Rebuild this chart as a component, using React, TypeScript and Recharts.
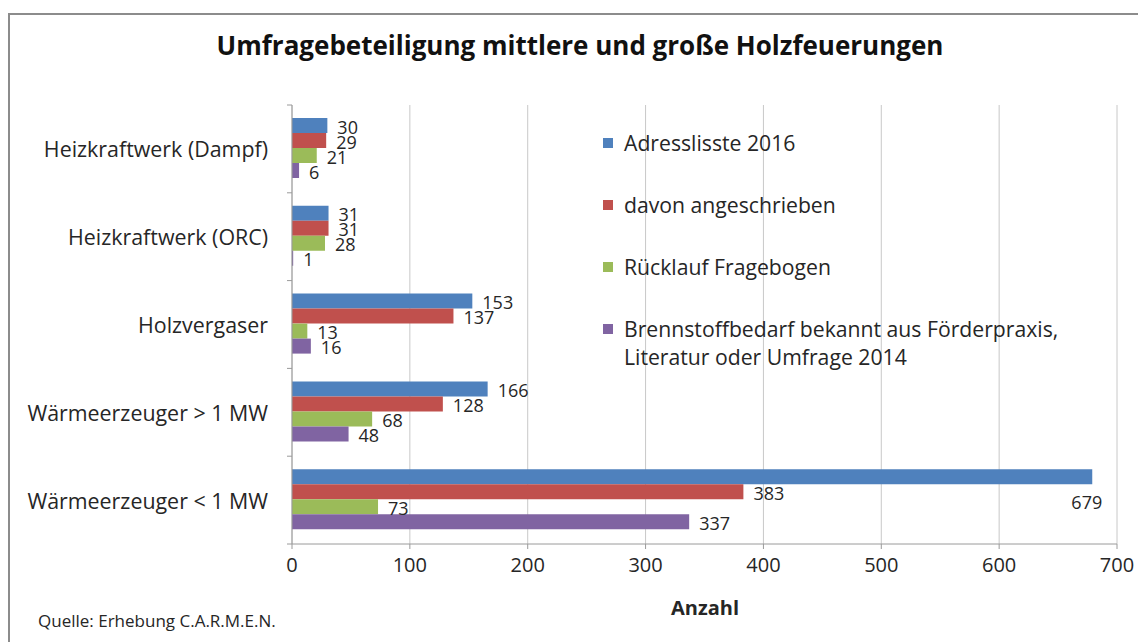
import React from "react"
import {
  BarChart,
  Bar,
  XAxis,
  YAxis,
  CartesianGrid,
  LabelList,
} from "recharts"

const categories = [
  "Heizkraftwerk (Dampf)",
  "Heizkraftwerk (ORC)",
  "Holzvergaser",
  "Wärmeerzeuger > 1 MW",
  "Wärmeerzeuger < 1 MW",
]

const adressliste = [30, 31, 153, 166, 679]
const angeschrieben = [29, 31, 137, 128, 383]
const ruecklauf = [21, 28, 13, 68, 73]
const brennstoff = [6, 1, 16, 48, 337]

const xTicks = [0, 100, 200, 300, 400, 500, 600, 700]

const seriesNames = [
  "Adresslisste 2016",
  "davon angeschrieben",
  "Rücklauf Fragebogen",
  "Brennstoffbedarf bekannt aus Förderpraxis,\nLiteratur oder Umfrage 2014",
]

const COLORS = ["#4F81BD", "#C0504D", "#9BBB59", "#8064A2"]
const KEYS = ["a", "b", "c", "d"]

const FONT = "'Open Sans', sans-serif"
const TEXT = "#262626"

const CHART_W = 1128
const CHART_H = 620
const MARGIN = { top: 90, right: 21, left: 0, bottom: 61 }
const Y_AXIS_W = 282
const X_AXIS_H = 30
const PLOT_RIGHT = CHART_W - MARGIN.right
const PLOT_H = CHART_H - MARGIN.top - MARGIN.bottom - X_AXIS_H

const data = categories.map((name, i) => ({
  name,
  a: adressliste[i],
  b: angeschrieben[i],
  c: ruecklauf[i],
  d: brennstoff[i],
}))

// category label plus the small tick marks that sit on the band borders
function CategoryTick(props: any) {
  const { y, payload, index } = props
  const band = PLOT_H / categories.length
  return (
    <g>
      <line x1={Y_AXIS_W - 5} x2={Y_AXIS_W} y1={y - band / 2} y2={y - band / 2} stroke="#9a9a9a" />
      {index === categories.length - 1 && (
        <line x1={Y_AXIS_W - 5} x2={Y_AXIS_W} y1={y + band / 2} y2={y + band / 2} stroke="#9a9a9a" />
      )}
      <text
        x={Y_AXIS_W - 24}
        y={y}
        textAnchor="end"
        dominantBaseline="central"
        fontFamily={FONT}
        fontSize={21.4}
        fill={TEXT}
      >
        {payload.value}
      </text>
    </g>
  )
}

function ValueLabel(props: any) {
  const { x, y, width, height, value } = props
  const end = x + width
  // no room right of the plot -> put it under the bar end
  if (end + 40 > PLOT_RIGHT) {
    return (
      <text x={end + 10} y={y + height / 2 + 25} textAnchor="end" dominantBaseline="central" fontFamily={FONT} fontSize={18} fill={TEXT}>
        {value}
      </text>
    )
  }
  return (
    <text x={end + 10} y={y + height / 2 + 1} dominantBaseline="central" fontFamily={FONT} fontSize={18} fill={TEXT}>
      {value}
    </text>
  )
}

export default function App() {
  const legendTops = [0, 62, 124, 186]

  return (
    <div
      style={{
        position: "absolute",
        left: 8,
        top: 13,
        width: CHART_W,
        height: 627,
        overflow: "hidden",
        borderTop: "2px solid #8c8c8c",
        borderLeft: "2px solid #8c8c8c",
        fontFamily: FONT,
        background: "#fff",
      }}
    >
      <div
        style={{
          position: "absolute",
          left: 0,
          width: 1140,
          top: 12,
          textAlign: "center",
          fontSize: 26,
          fontWeight: 700,
          color: "#111",
        }}
      >
        Umfragebeteiligung mittlere und große Holzfeuerungen
      </div>

      <div style={{ position: "absolute", left: 0, top: 0 }}>
        <BarChart
          width={CHART_W}
          height={CHART_H}
          data={data}
          layout="vertical"
          margin={MARGIN}
          barCategoryGap={13}
          barGap={0}
        >
          <CartesianGrid horizontal={false} stroke="#c8c8c8" />
          <XAxis
            type="number"
            domain={[0, 700]}
            ticks={xTicks}
            interval={0}
            height={X_AXIS_H}
            tickSize={5}
            tickMargin={9}
            axisLine={{ stroke: "#9a9a9a" }}
            tickLine={{ stroke: "#9a9a9a" }}
            tick={{ fontFamily: FONT, fontSize: 20, fill: TEXT }}
          />
          <YAxis
            type="category"
            dataKey="name"
            width={Y_AXIS_W}
            axisLine={{ stroke: "#9a9a9a" }}
            tickLine={false}
            tick={<CategoryTick />}
            interval={0}
          />
          {KEYS.map((k, i) => (
            <Bar key={k} dataKey={k} name={seriesNames[i]} fill={COLORS[i]} isAnimationActive={false}>
              <LabelList dataKey={k} content={<ValueLabel />} />
            </Bar>
          ))}
        </BarChart>
      </div>

      <div style={{ position: "absolute", left: 593, top: 114 }}>
        {seriesNames.map((name, i) => (
          <div
            key={name}
            style={{ position: "absolute", left: 0, top: legendTops[i], display: "flex", alignItems: "flex-start" }}
          >
            <span style={{ width: 10, height: 10, background: COLORS[i], marginTop: 9, marginRight: 11, flex: "none" }} />
            <span style={{ fontSize: 21.2, lineHeight: "28px", color: TEXT, whiteSpace: "pre" }}>{name}</span>
          </div>
        ))}
      </div>

      <div
        style={{
          position: "absolute",
          left: 0,
          width: 1390,
          top: 579,
          textAlign: "center",
          fontSize: 20,
          fontWeight: 700,
          color: TEXT,
        }}
      >
        Anzahl
      </div>

      <div style={{ position: "absolute", left: 28, top: 594, fontSize: 17, color: TEXT }}>
        Quelle: Erhebung C.A.R.M.E.N.
      </div>
    </div>
  )
}
